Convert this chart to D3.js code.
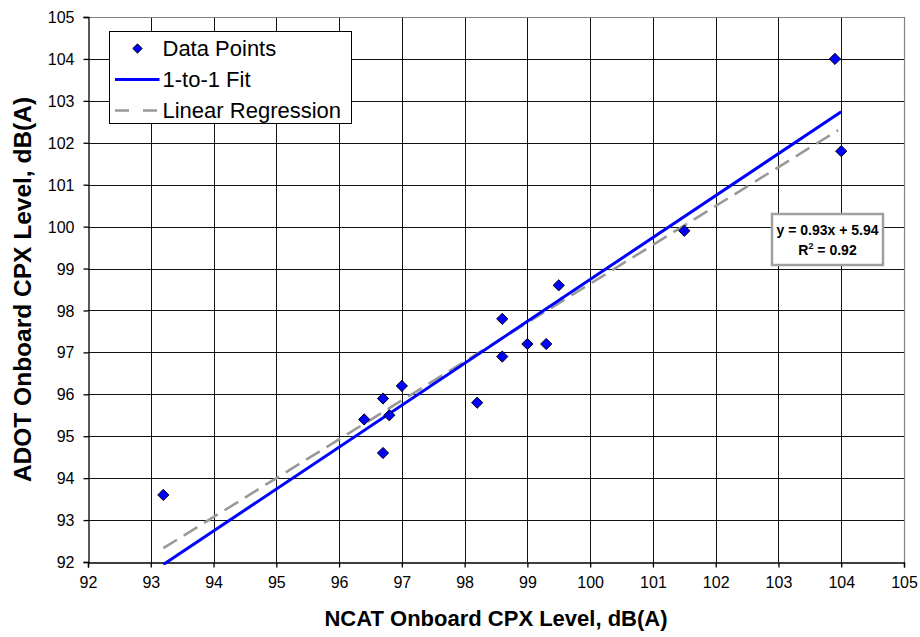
<!DOCTYPE html>
<html>
<head>
<meta charset="utf-8">
<script src="https://cdn.jsdelivr.net/npm/d3@7"></script>
<style>
  html, body { margin: 0; padding: 0; background: #fff; }
  svg { display: block; font-family: "Liberation Sans", Arial, sans-serif; }
</style>
</head>
<body>
<svg id="chart" width="920" height="637"></svg>
<script>
// Onboard CPX levels measured by the two crews, dB(A)
const ncatLevels = [93.2, 96.4, 96.7, 96.7, 96.8, 97.0, 98.2, 98.6, 98.6, 99.0, 99.3, 99.5, 101.5, 103.9, 104.0];
const adotLevels = [93.6, 95.4, 95.9, 94.6, 95.5, 96.2, 95.8, 97.8, 96.9, 97.2, 97.2, 98.6, 99.9, 104.0, 101.8];

// End points of the two fitted lines
const oneToOneX = [93.2, 104.0];
const oneToOneY = [91.94, 102.74];
const regressionX = [93.2, 103.95];
const regressionY = [92.33, 102.3];

// Axis ticks
const xTicks = [92, 93, 94, 95, 96, 97, 98, 99, 100, 101, 102, 103, 104, 105];
const yTicks = [92, 93, 94, 95, 96, 97, 98, 99, 100, 101, 102, 103, 104, 105];

const equationText = "y = 0.93x + 5.94";
const rSquaredText = "0.92";

const svg = d3.select("#chart");
const margin = { left: 88, top: 17, right: 16, bottom: 75 };
const W = 920, H = 637;
const x = d3.scaleLinear().domain([92, 105]).range([margin.left, W - margin.right]);
const y = d3.scaleLinear().domain([92, 105]).range([H - margin.bottom, margin.top]);

// clip region for lines
svg.append("defs").append("clipPath").attr("id", "plotClip")
  .append("rect")
  .attr("x", x(92)).attr("y", y(105))
  .attr("width", x(105) - x(92)).attr("height", y(92) - y(105) + 3);

// grid
const grid = svg.append("g").attr("stroke", "#111").attr("stroke-width", 1);
grid.selectAll(".vg").data(xTicks.slice(1, -1)).enter().append("line")
  .attr("x1", d => Math.round(x(d)) + 0.5).attr("x2", d => Math.round(x(d)) + 0.5)
  .attr("y1", y(105)).attr("y2", y(92));
grid.selectAll(".hg").data(yTicks.slice(1, -1)).enter().append("line")
  .attr("y1", d => Math.round(y(d)) + 0.5).attr("y2", d => Math.round(y(d)) + 0.5)
  .attr("x1", x(92)).attr("x2", x(105));

// plot border (top and right)
svg.append("path")
  .attr("d", `M${x(92)},${Math.round(y(105)) + 0.5}H${Math.round(x(105)) + 0.5}V${y(92)}`)
  .attr("fill", "none").attr("stroke", "#808080").attr("stroke-width", 1.2);

// axes
const xAxis = svg.append("g")
  .attr("transform", `translate(0,${Math.round(y(92)) + 0.5})`)
  .call(d3.axisBottom(x).tickValues(xTicks).tickSize(5).tickPadding(9).tickFormat(d3.format("d")));
const yAxis = svg.append("g")
  .attr("transform", `translate(${Math.round(x(92)) + 0.5},0)`)
  .call(d3.axisLeft(y).tickValues(yTicks).tickSize(5).tickPadding(9).tickFormat(d3.format("d")));
[xAxis, yAxis].forEach(g => {
  g.select(".domain").attr("stroke", "#000").attr("stroke-width", 1.3);
  g.selectAll(".tick line").attr("stroke", "#000").attr("stroke-width", 1.3);
  g.selectAll(".tick text").attr("fill", "#000").style("font-size", "16px")
    .style("font-family", "'Liberation Sans', Arial, sans-serif");
});
yAxis.selectAll(".tick text").attr("dy", "0.35em");

// lines
const line = d3.line().x(d => x(d[0])).y(d => y(d[1]));
const plot = svg.append("g").attr("clip-path", "url(#plotClip)");
plot.append("path")
  .datum(regressionX.map((v, i) => [v, regressionY[i]]))
  .attr("d", line).attr("fill", "none")
  .attr("stroke", "#999999").attr("stroke-width", 2.6).attr("stroke-dasharray", "16,8");
plot.append("path")
  .datum(oneToOneX.map((v, i) => [v, oneToOneY[i]]))
  .attr("d", line).attr("fill", "none")
  .attr("stroke", "#0000ff").attr("stroke-width", 3);

// points
const diamond = d3.symbol().type(d3.symbolDiamond2).size(80);
svg.append("g").selectAll("path")
  .data(ncatLevels.map((v, i) => [v, adotLevels[i]]))
  .enter().append("path")
  .attr("d", diamond)
  .attr("transform", d => `translate(${x(d[0])},${y(d[1])})`)
  .attr("fill", "#0000ff").attr("stroke", "#000").attr("stroke-width", 1);

// axis titles
svg.append("text")
  .attr("x", (x(92) + x(105)) / 2).attr("y", 626)
  .attr("text-anchor", "middle")
  .style("font-size", "22px").style("font-weight", "bold")
  .text("NCAT Onboard CPX Level, dB(A)");
svg.append("text")
  .attr("transform", `translate(31,${(y(92) + y(105)) / 2}) rotate(-90)`)
  .attr("text-anchor", "middle")
  .style("font-size", "24.5px").style("font-weight", "bold")
  .text("ADOT Onboard CPX Level, dB(A)");

// legend
const lg = svg.append("g").attr("transform", "translate(109.5,31.5)");
lg.append("rect").attr("width", 242).attr("height", 92)
  .attr("fill", "#fff").attr("stroke", "#000").attr("stroke-width", 1);
const legendItems = ["Data Points", "1-to-1 Fit", "Linear Regression"];
const legendDiamond = d3.symbol().type(d3.symbolDiamond2).size(55);
legendItems.forEach((label, i) => {
  const cy = 17 + i * 31;
  if (i === 0) {
    lg.append("path").attr("d", legendDiamond).attr("transform", `translate(28,${cy})`)
      .attr("fill", "#0000ff").attr("stroke", "#000").attr("stroke-width", 1);
  } else if (i === 1) {
    lg.append("line").attr("x1", 5.5).attr("x2", 50).attr("y1", cy).attr("y2", cy)
      .attr("stroke", "#0000ff").attr("stroke-width", 3);
  } else {
    lg.append("line").attr("x1", 5.5).attr("x2", 50).attr("y1", cy).attr("y2", cy)
      .attr("stroke", "#999999").attr("stroke-width", 2.6).attr("stroke-dasharray", "14,14");
  }
  lg.append("text").attr("x", 53).attr("y", cy).attr("dy", "0.36em")
    .style("font-size", "22px").text(label);
});

// regression equation label
const eq = svg.append("g").attr("transform", "translate(772,214)");
eq.append("rect").attr("width", 111).attr("height", 51)
  .attr("fill", "#fff").attr("stroke", "#a0a0a0").attr("stroke-width", 2.5);
eq.append("text").attr("x", 55.5).attr("y", 21).attr("text-anchor", "middle")
  .style("font-size", "14px").style("font-weight", "bold").text(equationText);
const r2 = eq.append("text").attr("x", 55.5).attr("y", 41).attr("text-anchor", "middle")
  .style("font-size", "14px").style("font-weight", "bold");
r2.append("tspan").text("R");
r2.append("tspan").attr("dy", -6).style("font-size", "9px").text("2");
r2.append("tspan").attr("dy", 6).text(" = " + rSquaredText);
</script>
</body>
</html>
